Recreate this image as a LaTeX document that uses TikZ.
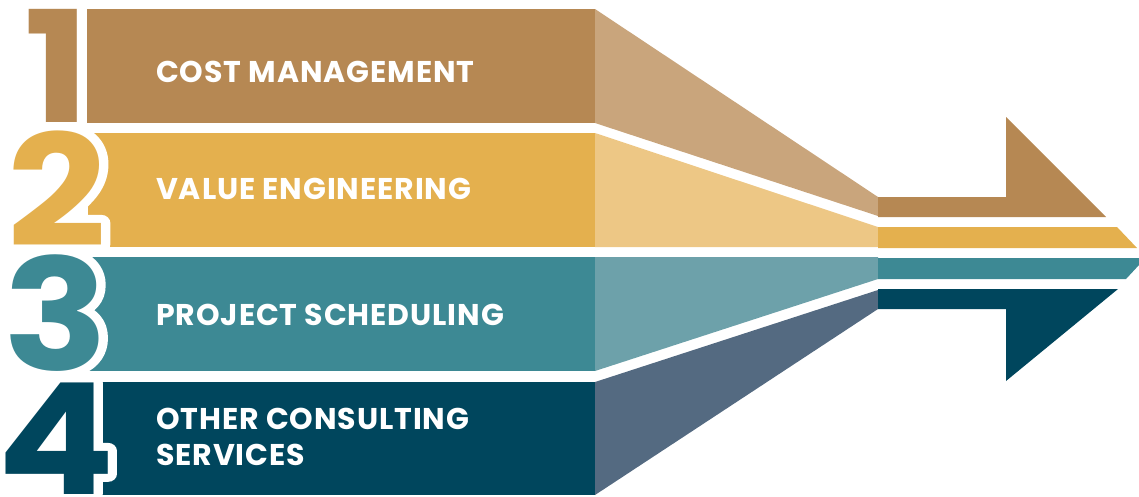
\documentclass[tikz,border=0pt]{standalone}
\usepackage{fontspec}
\newfontfamily\popfont{Poppins}[LetterSpace=3]
\newfontfamily\digfont{Poppins}
\definecolor{cA}{HTML}{B68853}
\definecolor{cAl}{HTML}{C9A57C}
\definecolor{cB}{HTML}{E4B04E}
\definecolor{cBl}{HTML}{EDC785}
\definecolor{cC}{HTML}{3D8994}
\definecolor{cCl}{HTML}{6DA1AA}
\definecolor{cD}{HTML}{00465D}
\definecolor{cDl}{HTML}{546A81}
\newcommand{\halodigit}[2]{\scalebox{1.12}[1]{\rlap{\textcolor{white}{\special{pdf:literal 2 Tr 16 w 1 j 1 1 1 RG}#2\special{pdf:literal 0 Tr 1 w}}}\textcolor{#1}{#2}}}
\tikzset{
  lbl/.style={anchor=base west, inner sep=0pt, text=white, font=\popfont\bfseries\fontsize{30}{35}\selectfont},
  digit/.style={anchor=base, inner sep=0pt, font=\digfont\bfseries\fontsize{155}{155}\selectfont}
}
\begin{document}
\begin{tikzpicture}[x=1pt,y=-1pt]
\useasboundingbox (0,0) rectangle (1139,496);
% band 1
\fill[cA] (87,9) rectangle (595,123);
\fill[cAl] (595,9) -- (878,197) -- (878,216) -- (595,123) -- cycle;
\fill[cA] (878,197) -- (1006,197) -- (1006,117) -- (1106,217) -- (878,217) -- cycle;
% band 2
\fill[cB] (88,133) rectangle (595,247);
\fill[cBl] (595,133) -- (878,227) -- (878,247) -- (595,247) -- cycle;
\fill[cB] (878,227) -- (1117,227) -- (1137,248) -- (878,248) -- cycle;
% band 3
\fill[cC] (88,257) rectangle (595,371);
\fill[cCl] (595,257) -- (878,257) -- (878,279) -- (595,371) -- cycle;
\fill[cC] (878,258) -- (1139,258) -- (1139,265) -- (1126,279) -- (878,279) -- cycle;
% band 4
\fill[cD] (88,382) rectangle (595,495);
\fill[cDl] (595,382) -- (878,290) -- (878,309) -- (595,495) -- cycle;
\fill[cD] (878,289) -- (1118,289) -- (1006,381) -- (1006,309) -- (878,309) -- cycle;
% digits
\node[digit] (d1) at (57,122) {\halodigit{cA}{1}};
\node[digit] (d2) at (57,246) {\halodigit{cB}{2}};
\node[digit] (d3) at (56,370) {\halodigit{cC}{3}};
\node[digit] (d4) at (56,494) {\halodigit{cD}{4}};
% labels
\node[lbl] (l1) at (156,82) {COST MANAGEMENT};
\node[lbl] (l2) at (156,199) {VALUE ENGINEERING};
\node[lbl] (l3) at (156,325) {PROJECT SCHEDULING};
\node[lbl] (l4) at (156,429) {OTHER CONSULTING};
\node[lbl] (l4b) at (156,465) {SERVICES};
\end{tikzpicture}
\end{document}
